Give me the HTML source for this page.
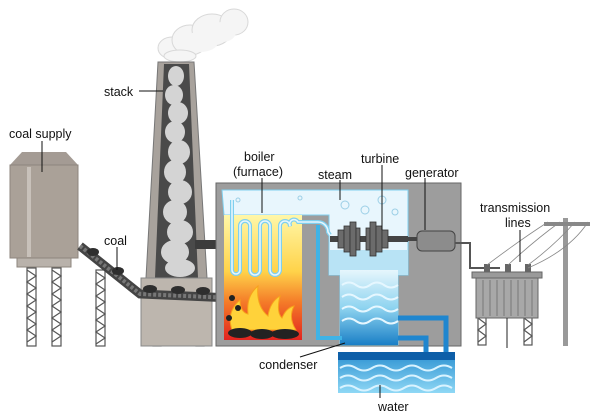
<!DOCTYPE html>
<html><head><meta charset="utf-8"><style>
body{margin:0;background:#fff}
svg{display:block}
text{font-family:"Liberation Sans",sans-serif;font-size:12.5px;fill:#111}
</style></head><body>
<svg width="600" height="413" viewBox="0 0 600 413" xmlns="http://www.w3.org/2000/svg">
<defs>
<linearGradient id="fire" x1="0" y1="0" x2="0" y2="1">
<stop offset="0" stop-color="#fff7a8"/><stop offset="0.45" stop-color="#ffd34a"/><stop offset="0.7" stop-color="#f47a28"/><stop offset="1" stop-color="#e2231f"/></linearGradient>
<linearGradient id="cond" x1="0" y1="0" x2="0" y2="1">
<stop offset="0" stop-color="#e6f6fc"/><stop offset="0.5" stop-color="#8fd4f0"/><stop offset="1" stop-color="#1a7fc6"/></linearGradient>
<linearGradient id="pool" x1="0" y1="0" x2="0" y2="1">
<stop offset="0" stop-color="#2a8fd0"/><stop offset="1" stop-color="#8fd8f5"/></linearGradient>
</defs>
<!-- cloud -->
<g fill="#f5f5f5" stroke="#d8d8d8">
<ellipse cx="172" cy="48" rx="14" ry="11"/><ellipse cx="190" cy="40" rx="18" ry="15"/><ellipse cx="212" cy="30" rx="20" ry="16"/><ellipse cx="234" cy="22" rx="14" ry="13"/><ellipse cx="180" cy="56" rx="16" ry="6"/></g>
<g fill="#f5f5f5"><ellipse cx="200" cy="42" rx="18" ry="10"/><ellipse cx="222" cy="32" rx="14" ry="10"/></g>
<!-- silo -->
<polygon points="22,152 66,152 78,165 10,165" fill="#a49b94"/>
<rect x="10" y="165" width="68" height="93" fill="#aaa198" stroke="#8d857e"/>
<rect x="27" y="167" width="4" height="90" fill="#c8c1ba"/>
<rect x="17" y="258" width="54" height="9" fill="#b9b2ab" stroke="#8d857e"/>
<g fill="#fff" stroke="#555" stroke-width="1.2">
<rect x="27" y="268" width="9" height="78"/><rect x="52" y="268" width="9" height="78"/><rect x="96" y="270" width="9" height="76"/>
<rect x="153" y="298" width="8" height="48"/><rect x="196" y="298" width="8" height="48"/></g>
<g fill="none" stroke="#555" stroke-width="1.2">
<path d="M27,270 l9,6 l-9,6 l9,6 l-9,6 l9,6 l-9,6 l9,6 l-9,6 l9,6 l-9,6 l9,6 l-9,6"/>
<path d="M52,270 l9,6 l-9,6 l9,6 l-9,6 l9,6 l-9,6 l9,6 l-9,6 l9,6 l-9,6 l9,6 l-9,6"/>
<path d="M96,272 l9,6 l-9,6 l9,6 l-9,6 l9,6 l-9,6 l9,6 l-9,6 l9,6 l-9,6 l9,6 l-9,6"/>
<path d="M153,300 l8,6 l-8,6 l8,6 l-8,6 l8,6 l-8,6 l8,6"/>
<path d="M196,300 l8,6 l-8,6 l8,6 l-8,6 l8,6 l-8,6 l8,6"/></g>
<!-- stack -->
<polygon points="158,62 194,62 207,278 146,278" fill="#a8a29c" stroke="#777"/>
<polygon points="164,64 189,64 198,278 155,278" fill="#4a4a4a"/>
<g fill="#d4d4d4">
<ellipse cx="176" cy="76" rx="8" ry="10"/><ellipse cx="174" cy="95" rx="9" ry="10"/><ellipse cx="178" cy="113" rx="10" ry="11"/><ellipse cx="175" cy="132" rx="10" ry="11"/><ellipse cx="179" cy="152" rx="11" ry="12"/><ellipse cx="175" cy="172" rx="11" ry="12"/><ellipse cx="180" cy="192" rx="12" ry="12"/><ellipse cx="175" cy="212" rx="12" ry="12"/><ellipse cx="180" cy="232" rx="13" ry="12"/><ellipse cx="175" cy="252" rx="14" ry="12"/><ellipse cx="180" cy="268" rx="15" ry="9"/></g>
<rect x="141" y="278" width="71" height="68" fill="#bdb6ae" stroke="#888"/>
<rect x="195" y="240" width="24" height="9" fill="#3c3c3c"/>
<!-- conveyor -->
<path d="M80,246 L140,294 L232,298" fill="none" stroke="#444" stroke-width="9"/>
<path d="M80,246 L140,294 L232,298" fill="none" stroke="#777" stroke-width="4" stroke-dasharray="3 2"/>
<g fill="#2e2e2e"><ellipse cx="93" cy="252" rx="6" ry="4"/><ellipse cx="118" cy="271" rx="6" ry="4"/><ellipse cx="150" cy="289" rx="7" ry="4"/><ellipse cx="178" cy="290" rx="7" ry="4"/><ellipse cx="203" cy="291" rx="7" ry="4"/></g>
<!-- building -->
<rect x="216" y="183" width="245" height="163" fill="#9d9d9d" stroke="#666"/>
<path d="M222,190 L408,190 L408,275 L398,275 L398,345 L340,345 L340,275 L329,275 L329,215 L302,215 L224,215 Z" fill="#e8f6fd" stroke="#7fd0ef"/>
<rect x="329" y="250" width="79" height="25" fill="#b8e3f5"/>
<path d="M340,270 L398,270 L398,345 L340,345 Z" fill="url(#cond)"/>
<g fill="none" stroke="#e6f7ff" stroke-width="2">
<path d="M342,285 q7,-5 14,0 t14,0 t14,0 t14,0"/><path d="M342,297 q7,-5 14,0 t14,0 t14,0 t14,0"/><path d="M342,309 q7,-5 14,0 t14,0 t14,0 t14,0"/><path d="M342,321 q7,-5 14,0 t14,0 t14,0 t14,0"/></g>
<g fill="none" stroke="#9ccfe6"><circle cx="345" cy="205" r="4"/><circle cx="365" cy="210" r="4"/><circle cx="382" cy="200" r="4"/><circle cx="395" cy="212" r="3"/><circle cx="238" cy="200" r="2"/><circle cx="300" cy="198" r="2"/></g>
<!-- boiler -->
<rect x="224" y="215" width="78" height="125" fill="url(#fire)"/>
<path d="M232,200 L232,270 a4,4 0 0 0 8,0 L240,226 a5,5 0 0 1 10,0 L250,270 a5,5 0 0 0 10,0 L260,226 a5,5 0 0 1 10,0 L270,270 a5,5 0 0 0 10,0 L280,226 a5,5 0 0 1 10,0 L290,226 a4,4 0 0 1 8,-4 L318,222 a10,10 0 0 1 10,10 L330,235" fill="none" stroke="#7fd0ef" stroke-width="4"/>
<path d="M232,200 L232,270 a4,4 0 0 0 8,0 L240,226 a5,5 0 0 1 10,0 L250,270 a5,5 0 0 0 10,0 L260,226 a5,5 0 0 1 10,0 L270,270 a5,5 0 0 0 10,0 L280,226 a5,5 0 0 1 10,0 L290,226 a4,4 0 0 1 8,-4 L318,222 a10,10 0 0 1 10,10 L330,235" fill="none" stroke="#e8f6fd" stroke-width="1.6"/>
<!-- fire -->
<g fill="#ffd23a" stroke="#f7a21b"><path d="M232,330 q-6,-18 8,-30 q0,12 8,14 q-2,-18 10,-28 q-2,20 10,30 q2,-14 12,-20 q-4,16 2,22 q4,-10 12,-12 q-6,12 2,24 Z"/></g>
<g fill="#222"><ellipse cx="240" cy="333" rx="12" ry="5"/><ellipse cx="262" cy="334" rx="12" ry="5"/><ellipse cx="285" cy="334" rx="14" ry="5"/><circle cx="232" cy="298" r="3"/><circle cx="238" cy="308" r="3"/><circle cx="229" cy="318" r="3"/></g>
<!-- blue pipes -->
<path d="M318,225 L318,338 L342,338" fill="none" stroke="#3fb3e6" stroke-width="4"/>
<path d="M398,338 L426,338 L426,352 M398,318 L446,318 L446,352" fill="none" stroke="#1f86cf" stroke-width="5"/>
<!-- turbine -->
<rect x="330" y="236" width="78" height="6" fill="#444"/>
<g fill="#6b6b6b" stroke="#333" stroke-width="0.8">
<rect x="338" y="230" width="6" height="18"/><rect x="344" y="226" width="6" height="26"/><rect x="350" y="222" width="6" height="34"/><rect x="356" y="228" width="4" height="22"/>
<rect x="366" y="228" width="4" height="22"/><rect x="370" y="222" width="6" height="34"/><rect x="376" y="226" width="6" height="26"/><rect x="382" y="230" width="6" height="18"/></g>
<rect x="406" y="237" width="12" height="4" fill="#444"/>
<rect x="417" y="231" width="38" height="20" rx="5" fill="#8c8c8c" stroke="#444"/>
<path d="M455,243 L470,243 L470,268 L500,268" fill="none" stroke="#555" stroke-width="2"/>
<!-- pool -->
<rect x="338" y="352" width="117" height="41" fill="url(#pool)"/>
<rect x="338" y="352" width="117" height="8" fill="#0e5fa8"/>
<g fill="none" stroke="#d9f3ff" stroke-width="2">
<path d="M340,368 q8,-5 16,0 t16,0 t16,0 t16,0 t16,0 t16,0 t16,0"/><path d="M340,378 q8,-5 16,0 t16,0 t16,0 t16,0 t16,0 t16,0 t16,0"/><path d="M340,388 q8,-5 16,0 t16,0 t16,0 t16,0 t16,0 t16,0 t16,0"/></g>
<!-- transformer & pole -->
<g fill="#fff" stroke="#555" stroke-width="1.2"><rect x="478" y="315" width="8" height="30"/><rect x="524" y="315" width="8" height="30"/></g>
<g fill="none" stroke="#555" stroke-width="1.2"><path d="M478,318 l8,6 l-8,6 l8,6 l-8,6"/><path d="M524,318 l8,6 l-8,6 l8,6 l-8,6"/></g>
<rect x="472" y="272" width="70" height="6" fill="#9a9a9a" stroke="#666"/>
<rect x="476" y="278" width="62" height="40" fill="#a8a8a8" stroke="#666"/>
<g stroke="#777"><line x1="483" y1="280" x2="483" y2="316"/><line x1="490" y1="280" x2="490" y2="316"/><line x1="497" y1="280" x2="497" y2="316"/><line x1="504" y1="280" x2="504" y2="316"/><line x1="511" y1="280" x2="511" y2="316"/><line x1="518" y1="280" x2="518" y2="316"/><line x1="525" y1="280" x2="525" y2="316"/><line x1="532" y1="280" x2="532" y2="316"/></g>
<line x1="507" y1="318" x2="507" y2="348" stroke="#222"/>
<g fill="#666"><rect x="484" y="264" width="6" height="8"/><rect x="505" y="264" width="6" height="8"/><rect x="525" y="264" width="6" height="8"/></g>
<rect x="563" y="218" width="5" height="128" fill="#999"/>
<rect x="544" y="222" width="46" height="4" fill="#888"/>
<g fill="none" stroke="#888" stroke-width="0.8"><path d="M487,265 Q520,240 548,222"/><path d="M508,265 Q535,240 560,222"/><path d="M528,265 Q555,245 575,222"/><path d="M528,268 Q570,250 588,222"/></g>
<!-- labels -->
<g stroke="#111" stroke-width="1"><line x1="42" y1="141" x2="42" y2="172"/><line x1="139" y1="91" x2="163" y2="91"/><line x1="117" y1="247" x2="117" y2="270"/><line x1="262" y1="178" x2="262" y2="213"/><line x1="340" y1="180" x2="340" y2="200"/><line x1="382" y1="165" x2="382" y2="230"/><line x1="425" y1="178" x2="425" y2="230"/><line x1="520" y1="230" x2="520" y2="262"/><line x1="300" y1="357" x2="345" y2="343"/><line x1="380" y1="385" x2="380" y2="398"/></g>
<text x="9" y="138">coal supply</text>
<text x="104" y="96">stack</text>
<text x="104" y="245">coal</text>
<text x="244" y="161">boiler</text>
<text x="233" y="176">(furnace)</text>
<text x="318" y="179">steam</text>
<text x="361" y="163">turbine</text>
<text x="405" y="177">generator</text>
<text x="480" y="212">transmission</text>
<text x="505" y="227">lines</text>
<text x="259" y="369">condenser</text>
<text x="378" y="411">water</text>
</svg>
</body></html>
